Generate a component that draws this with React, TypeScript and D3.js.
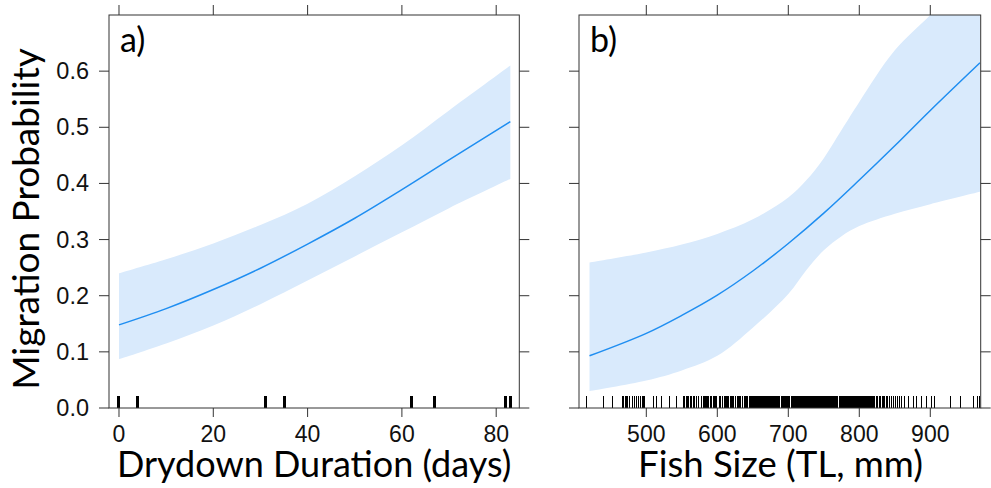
import React from 'react';
import * as d3 from 'd3';

// ---------- data ----------
const yTickValues = [0, 0.1, 0.2, 0.3, 0.4, 0.5, 0.6];
const yTickLabels = ['0.0', '0.1', '0.2', '0.3', '0.4', '0.5', '0.6'];
const drydownTicks = [0, 20, 40, 60, 80];
const sizeTicks = [500, 600, 700, 800, 900];

const drydownX = [0, 10, 20, 30, 40, 50, 60, 70, 83];
const drydownFit = [0.148, 0.177, 0.211, 0.249, 0.292, 0.338, 0.389, 0.442, 0.510];
const drydownUpper = [0.240, 0.265, 0.293, 0.326, 0.364, 0.413, 0.468, 0.530, 0.610];
const drydownLower = [0.087, 0.115, 0.147, 0.185, 0.227, 0.270, 0.313, 0.356, 0.408];
const drydownRug = [0, 4, 31, 35, 62, 67, 82, 83];

const sizeFitX = [420, 500, 550, 600, 650, 700, 750, 800, 850, 900, 970];
const sizeFit = [0.093, 0.133, 0.165, 0.201, 0.244, 0.293, 0.347, 0.406, 0.467, 0.530, 0.615];
const sizeUpperX = [420, 500, 550, 600, 650, 700, 725, 750, 775, 800, 850, 900, 970];
const sizeUpper = [0.259, 0.277, 0.291, 0.310, 0.336, 0.375, 0.405, 0.445, 0.495, 0.545, 0.637, 0.700, 0.790];
const sizeLowerX = [420, 500, 550, 600, 650, 700, 725, 750, 775, 800, 850, 900, 970];
const sizeLower = [0.030, 0.049, 0.067, 0.093, 0.143, 0.203, 0.245, 0.281, 0.306, 0.324, 0.346, 0.363, 0.385];
const sizeRug = [
  416, 440, 452,
  466, 468, 470, 472, 474, 477, 480, 483, 486, 489, 492, 494, 495, 496, 497, 498,
  510, 515, 522, 533, 542,
  552, 554, 556, 558, 560, 562, 564, 566, 568, 571, 574,
  578, 580, 582, 584, 585, 586, 588, 590, 591, 592, 594, 596, 597, 598, 599,
  603, 605, 607, 608, 610, 611, 613, 615, 616, 618, 620, 621, 623, 625, 626, 628, 630, 631, 633, 635,
  636, 638, 640, 641, 643,
  645, 646, 647, 648, 649, 650, 651, 653, 654, 655, 656, 657, 658, 659, 660, 661, 662, 663, 664, 665,
  666, 668, 669, 670, 671, 672, 673, 674, 675, 676, 677, 678, 679, 680, 681, 682, 683, 684, 685, 686,
  687, 688, 690, 691, 692, 693, 694, 695, 696, 697, 698, 699, 700, 701, 702, 704, 705, 706, 707, 708,
  709, 710, 711, 712, 713, 714, 715, 716, 717, 718, 719, 720, 721, 722, 723, 724, 725, 726, 727, 728,
  729, 730, 731, 732, 733, 734, 735, 736, 737, 738, 739, 740, 741, 742, 743, 744, 746, 747, 748, 749,
  750, 751, 752, 753, 754, 755, 756, 757, 758, 759, 760, 761, 762, 763, 764, 765, 766, 767, 768, 769,
  770, 772, 773, 774, 775, 776, 777, 778, 779, 780, 781, 782, 783, 784, 785, 786, 787, 788, 789, 791,
  792, 793, 794, 795, 796, 797, 798, 799, 800, 801, 802, 803, 804, 805, 806, 807, 809, 810, 811, 812,
  813, 814, 815, 816, 817, 818, 819, 820, 821, 822,
  824, 826, 828, 830, 832, 834, 836, 838, 840, 842, 845, 848, 851, 854, 857, 860, 863,
  869, 876, 881, 887, 895, 902, 906,
  929, 942, 961, 966, 970,
];

// ---------- layout ----------
const W = 991;
const H = 488;
const TOP = 15;
const BOTTOM = 408;
const A_LEFT = 109;
const A_RIGHT = 519.3;
const B_LEFT = 579;
const B_RIGHT = 980.7;

const AXIS = '#333333';
const BAND = '#d9eafc';
const LINE = '#1f8ef1';
const TITLE_FONT = 'Lato, "Open Sans", sans-serif';
const TICK_FONT = '"Liberation Sans", Arial, sans-serif';

const yScale = d3.scaleLinear().domain([0, 0.7]).range([BOTTOM, TOP]);
const xA = d3.scaleLinear().domain([-2.12, 84.9]).range([A_LEFT, A_RIGHT]);
const xB = d3.scaleLinear().domain([405.2, 971]).range([B_LEFT, B_RIGHT]);

type Pt = [number, number];
const zip = (xs: number[], ys: number[]): Pt[] => xs.map((x, i) => [x, ys[i]]);

function mkLine(xs: d3.ScaleLinear<number, number>) {
  return d3.line<Pt>().x(d => xs(d[0])).y(d => yScale(d[1])).curve(d3.curveCatmullRom.alpha(0.5));
}

function bandPath(xs: d3.ScaleLinear<number, number>, upX: number[], up: number[], loX: number[], lo: number[]) {
  const upper = mkLine(xs)(zip(upX, up)) || '';
  const lower = mkLine(xs)(zip(loX, lo).reverse()) || '';
  return upper + 'L' + lower.slice(1) + 'Z';
}

function fitPath(xs: d3.ScaleLinear<number, number>, x: number[], y: number[]) {
  return mkLine(xs)(zip(x, y)) || '';
}

function Panel(props: {
  id: string; left: number; right: number; xs: d3.ScaleLinear<number, number>;
  xTicks: number[]; band: string; fit: string; rug: number[]; rugWidth: number;
  label: string; leftLabels: boolean;
}) {
  const { id, left, right, xs, xTicks, band, fit, rug, rugWidth, label, leftLabels } = props;
  const tl = 10;
  return (
    <g>
      <defs>
        <clipPath id={id}>
          <rect x={left} y={TOP} width={right - left} height={BOTTOM - TOP} />
        </clipPath>
      </defs>
      <g clipPath={`url(#${id})`}>
        <path d={band} fill={BAND} stroke="none" />
        <path d={fit} fill="none" stroke={LINE} strokeWidth={1.5} />
        {rug.map((r, i) => (
          <line key={i} x1={xs(r)} x2={xs(r)} y1={BOTTOM - 12} y2={BOTTOM} stroke="#000"
            strokeWidth={rugWidth} shapeRendering="crispEdges" />
        ))}
      </g>
      <rect x={left} y={TOP} width={right - left} height={BOTTOM - TOP} fill="none" stroke={AXIS} strokeWidth={1} />
      {xTicks.map(t => (
        <g key={t}>
          <line x1={xs(t)} x2={xs(t)} y1={BOTTOM} y2={BOTTOM + 9} stroke={AXIS} />
          <line x1={xs(t)} x2={xs(t)} y1={TOP} y2={TOP - 10} stroke={AXIS} />
          <text x={xs(t)} y={442} textAnchor="middle" fontFamily={TICK_FONT} fontSize={23} fill="#111">{t}</text>
        </g>
      ))}
      {yTickValues.map((v, i) => (
        <g key={v}>
          <line x1={left} x2={left - tl} y1={yScale(v)} y2={yScale(v)} stroke={AXIS} />
          <line x1={right} x2={right + tl} y1={yScale(v)} y2={yScale(v)} stroke={AXIS} />
          {leftLabels && (
            <text x={89} y={yScale(v) + 8} textAnchor="end" fontFamily={TICK_FONT} fontSize={23.5} fill="#111">{yTickLabels[i]}</text>
          )}
        </g>
      ))}
      <text x={left + 11} y={52} fontFamily={TITLE_FONT} fontSize={34} fill="#000">{label}</text>
    </g>
  );
}

export default function App() {
  const bandA = bandPath(xA, drydownX, drydownUpper, drydownX, drydownLower);
  const fitA = fitPath(xA, drydownX, drydownFit);
  const bandB = bandPath(xB, sizeUpperX, sizeUpper, sizeLowerX, sizeLower);
  const fitB = fitPath(xB, sizeFitX, sizeFit);
  return (
    <svg width={W} height={H} style={{ position: 'absolute', left: 0, top: 0, background: '#fff' }}>
      <rect x={0} y={0} width={W} height={H} fill="#fff" />
      <Panel id="clipA" left={A_LEFT} right={A_RIGHT} xs={xA} xTicks={drydownTicks} band={bandA} fit={fitA}
        rug={drydownRug} rugWidth={3} label="a)" leftLabels={true} />
      <Panel id="clipB" left={B_LEFT} right={B_RIGHT} xs={xB} xTicks={sizeTicks} band={bandB} fit={fitB}
        rug={sizeRug} rugWidth={1} label="b)" leftLabels={false} />
      <text transform="translate(39,219) rotate(-90)" textAnchor="middle" fontFamily={TITLE_FONT} fontSize={37} fill="#000">Migration Probability</text>
      <text x={(A_LEFT + A_RIGHT) / 2} y={477} textAnchor="middle" fontFamily={TITLE_FONT} fontSize={36} fill="#000">Drydown Duration (days)</text>
      <text x={780.5} y={477} textAnchor="middle" fontFamily={TITLE_FONT} fontSize={36.5} fill="#000">Fish Size (TL, mm)</text>
    </svg>
  );
}
